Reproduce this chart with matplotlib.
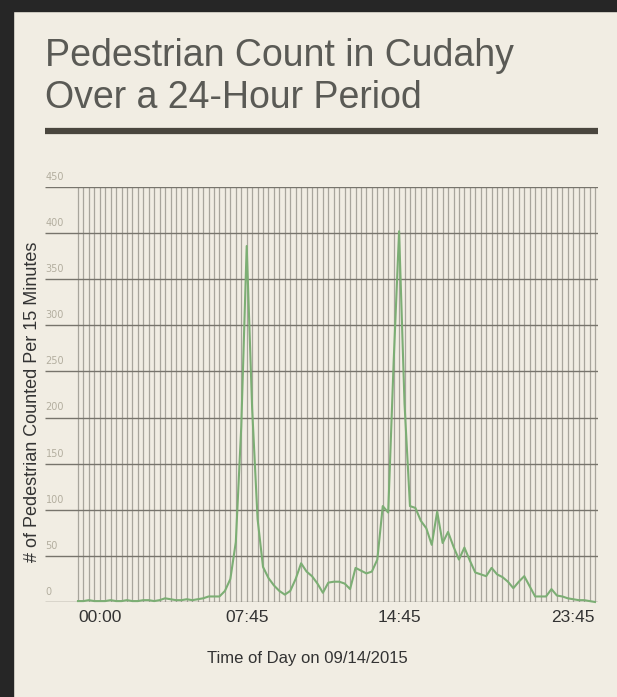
import matplotlib
matplotlib.use("Agg")
import matplotlib.pyplot as plt
from matplotlib.patches import Rectangle
from matplotlib.lines import Line2D

# pedestrian counts, one value per 15 minutes from 00:00 to 23:45
counts = [1, 1, 2, 1, 1, 1, 2, 1, 1, 2, 1, 1, 2, 2, 1, 2,
          4, 3, 2, 2, 3, 2, 3, 4, 6, 6, 6, 12, 25, 65, 190, 386,
          210, 90, 38, 26, 18, 12, 8, 12, 25, 42, 33, 28, 20, 10, 21, 22,
          22, 20, 14, 37, 34, 31, 33, 46, 104, 97, 260, 402, 215, 104,
          102, 88, 80, 62, 98, 64, 76, 60, 46, 59, 45, 32, 30, 28, 37, 30,
          27, 22, 15, 22, 28, 17, 6, 6, 6, 14, 7, 6, 4, 3, 2, 2, 1, 0]
tick_idx = [0, 31, 59, 95]
tick_labels = ["00:00", "07:45", "14:45", "23:45"]
y_ticks = [0, 50, 100, 150, 200, 250, 300, 350, 400, 450]

bg = "#f1ede3"
W, H = 617, 697
fig = plt.figure(figsize=(W / 100, H / 100), dpi=100, facecolor=bg)

# dark frame on the left and top
fig.add_artist(Rectangle((0, 0), 13 / W, 1, transform=fig.transFigure, color="#262626", zorder=0))
fig.add_artist(Rectangle((0, 1 - 11 / H), 1, 11 / H, transform=fig.transFigure, color="#262626", zorder=0))

# title
fig.text(45 / W, 1 - 66 / H, "Pedestrian Count in Cudahy", fontsize=27, color="#5a5a55",
         family="Liberation Sans", va="baseline", ha="left")
fig.text(45 / W, 1 - 108 / H, "Over a 24-Hour Period", fontsize=27, color="#5a5a55",
         family="Liberation Sans", va="baseline", ha="left")
fig.add_artist(Line2D([45 / W, 598 / W], [1 - 131 / H, 1 - 131 / H], transform=fig.transFigure,
                      color="#4a463e", linewidth=4.5, solid_capstyle="butt"))

# plot area
ax = fig.add_axes([45 / W, 1 - 602 / H, (598 - 45) / W, (602 - 187) / H])
ax.set_facecolor(bg)
x0, x1 = -6.06, 95.55
ax.set_xlim(x0, x1)
ax.set_ylim(0, 450)
for s in ax.spines.values():
    s.set_visible(False)
ax.set_yticks([])
ax.set_xticks([])

xs = list(range(len(counts)))
ax.vlines(xs, 0, 450, color="#a8a59c", linewidth=0.9, zorder=1)
ax.hlines(y_ticks, x0, x1, color="#77746c", linewidth=1.0, zorder=2)
ax.plot(xs, counts, color="#7cae74", linewidth=1.5, zorder=3, clip_on=False)

for v in y_ticks:
    ax.text(x0 + 0.1, v + 11, str(v), fontsize=7, color="#b3ae9f", family="DejaVu Sans",
            ha="left", va="center")

for i, lab in zip(tick_idx, tick_labels):
    ha = "left" if i == 0 else ("right" if i == len(counts) - 1 else "center")
    ax.text(i, -17, lab, fontsize=12.5, color="#333333", family="Liberation Sans",
            ha=ha, va="center")

fig.text(307 / W, 1 - 658 / H, "Time of Day on 09/14/2015", fontsize=12, color="#333333",
         family="Liberation Sans", ha="center", va="center")
fig.text(33 / W, 1 - 402 / H, "# of Pedestrian Counted Per 15 Minutes", fontsize=13,
         color="#333333", family="Liberation Sans", ha="center", va="center", rotation=90)

fig.savefig("out.png", dpi=100, facecolor=bg)
